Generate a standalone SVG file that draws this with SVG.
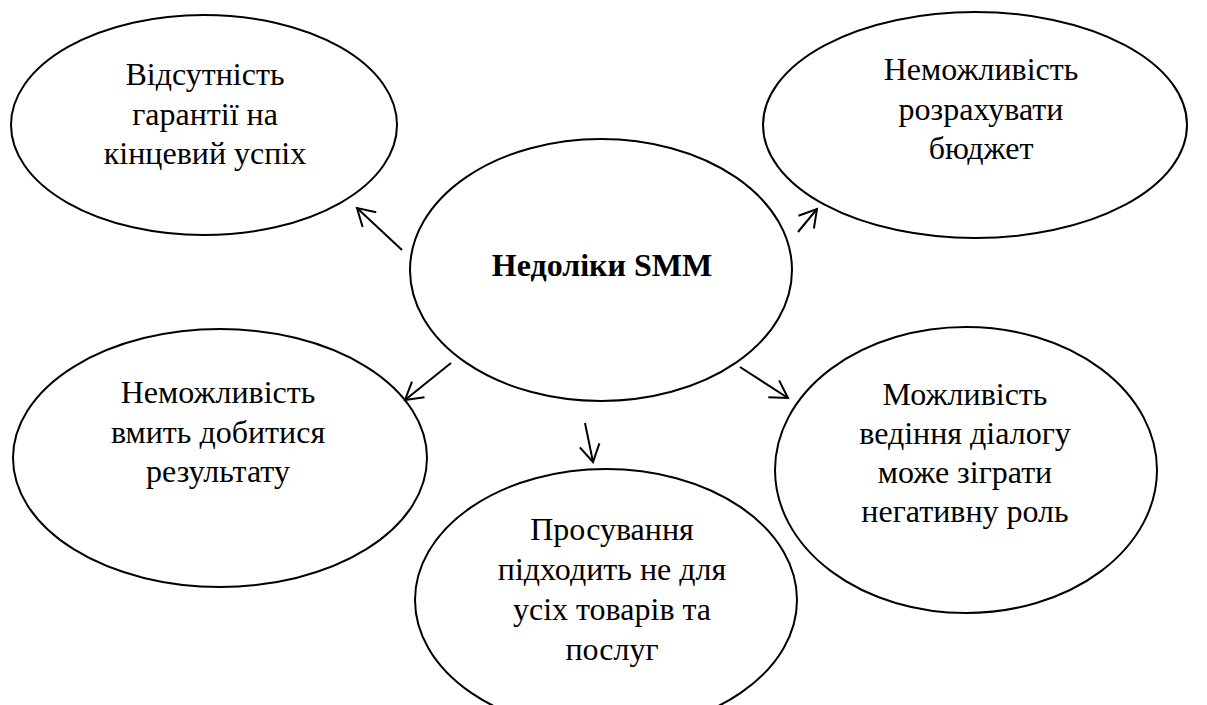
<svg xmlns="http://www.w3.org/2000/svg" width="1207" height="705" viewBox="0 0 1207 705">
<style>
.node ellipse{fill:none;stroke:#000;stroke-width:2}
text{font-family:'Liberation Serif','Times New Roman',serif;font-size:32px;fill:#000;text-anchor:middle}
.title{font-weight:bold}
.conn line{stroke:#000;stroke-width:2;marker-end:url(#arr)}
</style>
<defs>
<marker id="arr" viewBox="0 0 20 22" refX="18" refY="11" markerWidth="20" markerHeight="22" markerUnits="userSpaceOnUse" orient="auto" overflow="visible">
<path d="M1,1 L18,11 L1,21" fill="none" stroke="#000" stroke-width="2"/>
</marker>
</defs>
<rect width="1207" height="705" fill="#fff"/>
<g id="center" class="node">
<ellipse cx="601" cy="270" rx="191" ry="131"/>
<text class="title" x="602" y="276">Недоліки SMM</text>
</g>
<g id="top-left" class="node">
<ellipse cx="204" cy="125" rx="193" ry="110"/>
<text x="205" y="85">Відсутність</text>
<text x="205" y="124.5">гарантії на</text>
<text x="205" y="164">кінцевий успіх</text>
</g>
<g id="top-right" class="node">
<ellipse cx="975" cy="125" rx="212" ry="113"/>
<text x="981" y="80">Неможливість</text>
<text x="981" y="119.5">розрахувати</text>
<text x="981" y="159">бюджет</text>
</g>
<g id="mid-left" class="node">
<ellipse cx="220" cy="458" rx="207" ry="129"/>
<text x="218" y="403">Неможливість</text>
<text x="218" y="442.5">вмить добитися</text>
<text x="218" y="482">результату</text>
</g>
<g id="bottom" class="node">
<ellipse cx="606" cy="600" rx="191" ry="131"/>
<text x="612" y="540">Просування</text>
<text x="612" y="580">підходить не для</text>
<text x="612" y="620">усіх товарів та</text>
<text x="612" y="660">послуг</text>
</g>
<g id="right" class="node">
<ellipse cx="966" cy="470" rx="191" ry="143"/>
<text x="965" y="405">Можливість</text>
<text x="965" y="444">ведіння діалогу</text>
<text x="965" y="483">може зіграти</text>
<text x="965" y="522">негативну роль</text>
</g>
<g id="connectors" class="conn">
<line x1="402" y1="250" x2="357" y2="208"/>
<line x1="798" y1="232" x2="817" y2="209"/>
<line x1="451" y1="363" x2="405" y2="400"/>
<line x1="585" y1="423" x2="593" y2="462"/>
<line x1="740" y1="367" x2="788" y2="398"/>
</g>
</svg>
